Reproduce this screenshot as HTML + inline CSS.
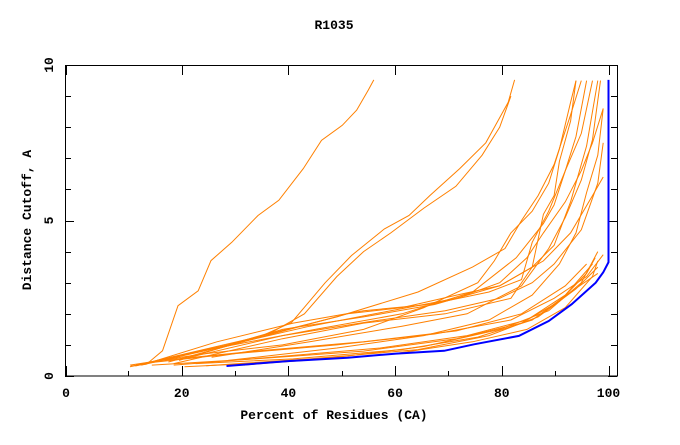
<!DOCTYPE html>
<html><head><meta charset="utf-8"><style>
html,body{margin:0;padding:0;background:#fff;}
svg text{font-family:"Liberation Mono",monospace;font-weight:bold;font-size:13px;fill:#000;}
</style></head><body>
<svg id="chart" width="680" height="440" viewBox="0 0 680 440" xmlns="http://www.w3.org/2000/svg">
<rect x="0" y="0" width="680" height="440" fill="#fff"/>
<text x="334" y="29" text-anchor="middle">R1035</text>
<text x="334" y="419" text-anchor="middle">Percent of Residues (CA)</text>
<text transform="translate(31,220) rotate(-90)" text-anchor="middle">Distance Cutoff, A</text>
<g id="axes"></g>
<g id="series"></g>
<rect x="65.5" y="65.5" width="552" height="310.5" fill="none" stroke="#000" stroke-width="1"/>
</svg>
<script>
const xTicks = [0,20,40,60,80,100];
const xMinorTicks = [10,30,50,70,90];
const yTickLabels = [0,5,10];
const yMinorTicks = [0,1,2,3,4,5,6,7,8,9,10];
const orangeSeries = [
 [[10.5,0.32],[13.4,0.38],[16.4,0.81],[19.3,2.26],[23.1,2.74],[25.5,3.71],[29.4,4.3],[34.3,5.16],[38.2,5.65],[42.8,6.67],[46.2,7.58],[50.1,8.06],[52.8,8.55],[55,9.2],[56,9.52]],
 [[11.3,0.32],[23.6,0.8],[33.8,1.2],[40.6,1.72],[46.9,3.0],[51.8,3.87],[58,4.73],[62.6,5.16],[66.5,5.8],[72.1,6.67],[77,7.5],[81.2,8.8],[82.4,9.52]],
 [[12.4,0.35],[26.6,0.9],[36.8,1.4],[43,2.0],[49.1,3.2],[54.1,4.0],[59.2,4.6],[65.4,5.4],[71.4,6.1],[76.3,7.1],[79.6,8.0],[81.7,9.0]],
 [[10.3,0.35],[23.6,0.7],[38.9,1.0],[54.1,1.5],[65.4,2.2],[75.5,3.0],[78.6,3.7],[81.7,4.6],[85.7,5.3],[88.8,6.2],[90.8,7.3],[92.9,8.8],[93.9,9.5]],
 [[20.5,0.3],[38.9,0.45],[59.2,0.7],[74.5,1.1],[84.7,1.5],[91.9,2.2],[97,3.2],[98,3.7]],
 [[14.4,0.35],[33.8,0.55],[54.1,0.8],[71.5,1.2],[83.7,1.7],[90.8,2.4],[95.9,3.3],[97.5,3.8]],
 [[18.5,0.35],[36.8,0.6],[57.2,0.9],[73.5,1.3],[84.7,1.8],[91.9,2.6],[97,3.6]],
 [[24.6,0.33],[44,0.55],[64.3,0.85],[77.6,1.3],[86.8,1.9],[93.9,2.8],[98,3.5]],
 [[12.4,0.4],[28.7,0.7],[49.1,1.0],[67.4,1.35],[81.7,1.8],[89.8,2.5],[95.9,3.2],[99,3.9]],
 [[16.4,0.5],[33.8,0.8],[54.1,1.1],[71.5,1.45],[83.7,2.0],[91.9,2.9],[95.9,3.6]],
 [[22.6,0.4],[40.9,0.55],[61.3,0.85],[75.5,1.25],[85.7,1.8],[92.9,2.7],[98,3.3]],
 [[31.7,0.35],[49.1,0.6],[65.4,0.95],[79.6,1.5],[88.8,2.1],[94.9,3.0],[98,4.0]],
 [[11.4,0.35],[28.7,1.0],[44,1.6],[59.2,2.1],[71.5,2.5],[79.6,3.0],[84.7,3.8],[87.8,4.6],[91.9,5.6],[94.9,6.6],[97,7.5],[99,8.6]],
 [[13.4,0.4],[26.6,1.1],[40.9,1.7],[54.1,2.1],[66.4,2.3],[77.6,2.7],[83.7,3.1],[85.7,4.3],[88.8,5.3],[91.9,6.6],[94.9,7.8],[97,9.5]],
 [[15.4,0.5],[32.8,1.2],[49.1,1.9],[64.3,2.7],[74.5,3.5],[80.6,4.1],[83.7,5.0],[86.8,5.8],[89.8,6.8],[92.9,8.4],[94.9,9.5]],
 [[17.5,0.45],[35.8,1.3],[51.1,2.0],[61.3,2.2],[71.5,2.6],[79.6,2.9],[85.7,3.5],[89.8,4.2],[92.9,5.6],[95.9,7.4],[98,9.5]],
 [[19.5,0.5],[38.9,1.5],[54.1,1.9],[67.4,2.3],[79.6,2.9],[87.8,3.7],[92.9,4.6],[97,5.8],[99,6.4]],
 [[21.5,0.6],[38.9,1.3],[55.2,1.75],[69.4,2.1],[79.6,2.5],[85.7,3.0],[89.8,3.6],[94.9,4.7],[98,6.2],[99,7.5]],
 [[25.6,0.6],[44,1.1],[61.3,1.6],[73.5,2.0],[83.7,2.9],[88.8,4.1],[91.9,5.1],[94.9,6.3],[97,7.6],[98.5,9.5]],
 [[28.7,0.5],[49.1,0.9],[65.4,1.3],[77.6,1.8],[85.7,2.6],[90.8,3.6],[93.9,4.6],[95.9,5.9],[98,7.1],[99,8.6]],
 [[10.3,0.3],[26.6,0.9],[45,1.5],[61.3,2.0],[74.5,2.7],[82.7,3.8],[87.8,4.9],[89.8,5.5],[91.9,6.6],[93.9,7.7],[95.9,9.5]],
 [[18.5,0.4],[38.9,1.2],[54.1,1.7],[69.4,2.0],[81.7,2.5],[85.7,3.5],[87.8,5.2],[89.8,5.8],[90.8,6.9],[92.9,8.2],[93.9,9.5]]
];
const blueSeries = [[28.4,0.32],[39.9,0.48],[51.1,0.59],[60.2,0.72],[69.2,0.81],[74.8,1.02],[83.2,1.29],[88.8,1.77],[93.1,2.31],[97.6,3.0],[99,3.33],[100,3.66],[100,9.52]];

const NS='http://www.w3.org/2000/svg';
function sx(v){return 75+v*5.335;}
function sy(v){return 376-v*31.1;}
function tickX(v){return v===0?66:sx(v);}
const axes=document.getElementById('axes');
const ser=document.getElementById('series');
function mk(tag,attrs,parent){const e=document.createElementNS(NS,tag);for(const k in attrs)e.setAttribute(k,attrs[k]);parent.appendChild(e);return e;}
xTicks.forEach(v=>{
  const x=Math.round(tickX(v))+0.5;
  const t1=mk('line',{x1:x,x2:x,y1:376,y2:366,stroke:'#000'},axes);
  
  
  const t2=mk('line',{x1:x,x2:x,y1:65,y2:75,stroke:'#000'},axes);
  
  
  const tl=mk('text',{x:tickX(v),y:397,'text-anchor':'middle'},axes);
  tl.textContent=v;
  
  
});
xMinorTicks.forEach(v=>{
  const x=Math.round(sx(v))+0.5;
  const t1=mk('line',{x1:x,x2:x,y1:376,y2:371,stroke:'#000'},axes);
  
  
});
yMinorTicks.forEach(v=>{
  const len=(v%5===0)?9:6;
  const y=Math.round(sy(v))+0.5;
  const t1=mk('line',{x1:65,x2:65+len,y1:y,y2:y,stroke:'#000'},axes);
  
  
  const t2=mk('line',{x1:617,x2:617-len,y1:y,y2:y,stroke:'#000'},axes);
  
  
});
yTickLabels.forEach(v=>{
  const tl=mk('text',{transform:'translate(53,'+sy(v)+') rotate(-90)','text-anchor':'middle'},axes);
  tl.textContent=v;
  
  
});
function pts(s){return s.map(p=>sx(p[0]).toFixed(1)+','+sy(p[1]).toFixed(1)).join(' ');}
orangeSeries.forEach(s=>{
  const pl=mk('polyline',{points:pts(s),fill:'none',stroke:'#ff8000','stroke-width':1},ser);
  
  
});
const bl=mk('polyline',{points:pts(blueSeries),fill:'none',stroke:'#0000ff','stroke-width':2},ser);


</script>
</body></html>
